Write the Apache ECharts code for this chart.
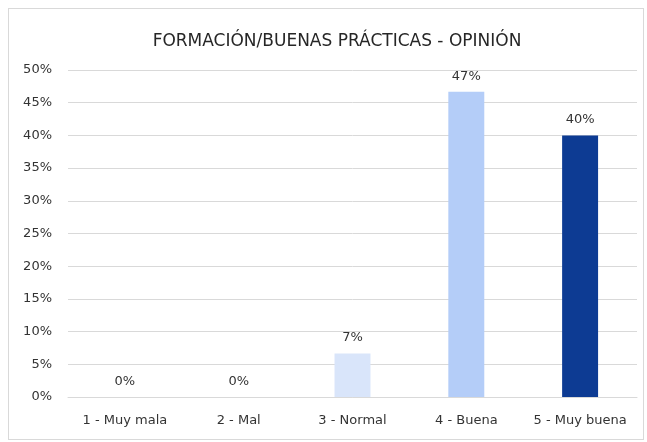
<!DOCTYPE html>
<html lang="es">
<head>
    <meta charset="UTF-8">
    <title>Formación/Buenas prácticas - Opinión</title>
    <script src="https://cdn.jsdelivr.net/npm/echarts@6/dist/echarts.min.js"></script>
    <style>
        html, body { margin: 0; padding: 0; background: #fff; }
        #frame {
            position: absolute; left: 8px; top: 8px;
            width: 636px; height: 432px;
            border: 1px solid #d9d9d9; box-sizing: border-box;
        }
        #main { position: absolute; left: 0; top: 0; width: 647px; height: 442px; }
    </style>
</head>
<body>
    <div id="frame"></div>
    <div id="main"></div>
    <script>
        // datos
        var categorias = ['1 - Muy mala', '2 - Mal', '3 - Normal', '4 - Buena', '5 - Muy buena'];
        var valores = [0, 0, 6.67, 46.67, 40];
        var colores = ['#d9e5fa', '#d9e5fa', '#d9e5fa', '#b4cdf8', '#0d3b93'];
        var ticksY = [0, 5, 10, 15, 20, 25, 30, 35, 40, 45, 50];

        var myChart = echarts.init(document.getElementById('main'));
        var fuente = 'DejaVu Sans';
        var option = {
            animation: false,
            title: {
                text: 'FORMACIÓN/BUENAS PRÁCTICAS - OPINIÓN',
                left: 332, top: 28, textAlign: 'center',
                textStyle: { color: '#262626', fontSize: 17, fontWeight: 'normal', fontFamily: fuente }
            },
            grid: { left: 68, right: 10, top: 70, bottom: 45, containLabel: false },
            xAxis: {
                type: 'category',
                data: categorias,
                axisLine: { lineStyle: { color: '#d9d9d9', width: 1 } },
                axisTick: { show: false },
                axisLabel: { color: '#333333', fontSize: 13, margin: 17, fontFamily: fuente, interval: 0 }
            },
            yAxis: {
                type: 'value',
                min: ticksY[0], max: ticksY[ticksY.length - 1], interval: 5,
                axisLine: { show: false },
                axisTick: { show: false },
                splitLine: { lineStyle: { color: '#d9d9d9', width: 1 } },
                axisLabel: { color: '#333333', fontSize: 13, margin: 16, fontFamily: fuente,
                    formatter: function (v) { return v + '%'; } }
            },
            series: [{
                type: 'bar',
                barWidth: '31.6%',
                data: valores.map(function (v, i) {
                    return { value: v, itemStyle: { color: colores[i] } };
                }),
                label: {
                    show: true, position: 'top', distance: 9,
                    color: '#333333', fontSize: 13, fontFamily: fuente,
                    formatter: function (p) { return Math.round(p.value) + '%'; }
                }
            }]
        };
        myChart.setOption(option);
    </script>
</body>
</html>
